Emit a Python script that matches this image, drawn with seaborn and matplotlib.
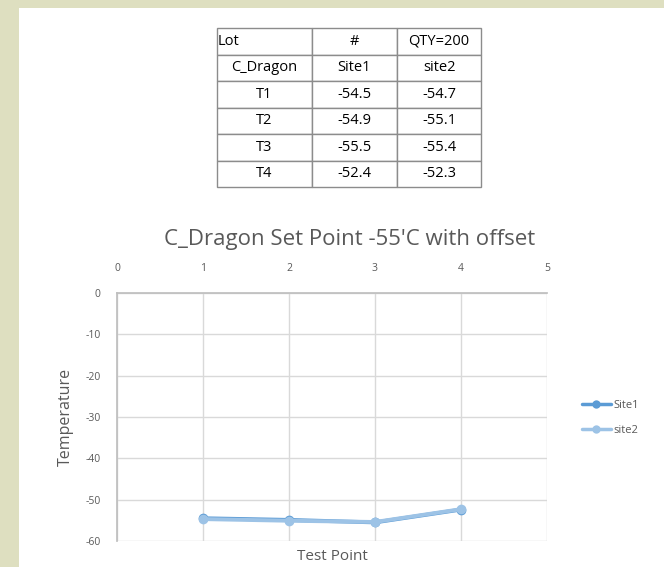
import matplotlib
matplotlib.use("Agg")
import matplotlib.pyplot as plt
import seaborn as sns
import pandas as pd
from matplotlib.patches import Rectangle
from matplotlib.lines import Line2D

# ---- data ----
test_points = [1, 2, 3, 4]
point_labels = ["T1", "T2", "T3", "T4"]
site1 = [-54.5, -54.9, -55.5, -52.4]
site2 = [-54.7, -55.1, -55.4, -52.3]
series_names = ["Site1", "site2"]
x_ticks = [0, 1, 2, 3, 4, 5]
y_ticks = [0, -10, -20, -30, -40, -50, -60]

sns.set_theme(style="white")
plt.rcParams['font.family'] = ['Open Sans', 'DejaVu Sans']
plt.rcParams['axes.unicode_minus'] = False

W, H = 664, 567
fig = plt.figure(figsize=(W / 100, H / 100), dpi=100)
fig.patch.set_facecolor("#dedfc0")
# white panel
fig.add_artist(Rectangle((19 / W, 0), 1 - 19 / W, 1 - 8 / H, transform=fig.transFigure,
                         facecolor="white", edgecolor="none", zorder=0))

# ---- table ----
tx0, tx1, ty0, ty1 = 217, 481, 28, 187
tax = fig.add_axes([tx0 / W, 1 - ty1 / H, (tx1 - tx0) / W, (ty1 - ty0) / H])
tax.axis("off")
cells = [["Lot", "#", "QTY=200"], ["C_Dragon", series_names[0], series_names[1]]]
for lbl, a, b in zip(point_labels, site1, site2):
    cells.append([lbl, f"{a}", f"{b}"])
col_w = [95, 85, 84]
tot = sum(col_w)
tbl = tax.table(cellText=cells, colWidths=[c / tot for c in col_w], bbox=[0, 0, 1, 1],
                cellLoc="center")
tbl.auto_set_font_size(False)
for (r, c), cell in tbl.get_celld().items():
    cell.set_edgecolor("#8c8c8c")
    cell.set_linewidth(1.0)
    cell.get_text().set_fontsize(10.5)
    cell.get_text().set_color("black")
    if r == 0 and c == 0:
        cell.get_text().set_ha("left")
        cell.PAD = 0.01
        cell._loc = "left"

# ---- chart ----
px0, px1, py0, py1 = 117, 547, 293, 541
ax = fig.add_axes([px0 / W, 1 - py1 / H, (px1 - px0) / W, (py1 - py0) / H])
df = pd.DataFrame({
    "Test Point": test_points * 2,
    "Temperature": site1 + site2,
    "Series": [series_names[0]] * 4 + [series_names[1]] * 4,
})
palette = {series_names[0]: "#5b9bd5", series_names[1]: "#9dc3e6"}
sns.lineplot(data=df, x="Test Point", y="Temperature", hue="Series", palette=palette,
             marker="o", markersize=7, markeredgewidth=0, linewidth=2.8, ax=ax,
             legend=False)

ax.set_xlim(0, 5)
ax.set_ylim(-60, 0)
ax.set_xticks(x_ticks)
ax.set_yticks(y_ticks)
ax.xaxis.tick_top()
ax.tick_params(axis="both", length=0, labelsize=7.5, labelcolor="#595959")
ax.tick_params(axis="x", pad=14)
ax.tick_params(axis="y", pad=12)
ax.grid(True, color="#d9d9d9", linewidth=1)
ax.set_axisbelow(True)
for s in ["right", "bottom"]:
    ax.spines[s].set_visible(False)
ax.spines["left"].set_color("#bfbfbf")
ax.spines["top"].set_color("#bfbfbf")
ax.set_xlabel("")
ax.set_ylabel("")

fig.text(332 / W, 1 - 556 / H, "Test Point", ha="center", va="center", fontsize=11, color="#595959")
fig.text(66 / W, 1 - 417 / H, "Temperature", ha="center", va="center", rotation=90,
         fontsize=11.5, color="#595959")
fig.text(350 / W, 1 - 240 / H, "C_Dragon Set Point -55'C with offset", ha="center", va="center",
         fontsize=16, color="#595959")

# legend
handles = [Line2D([], [], color=palette[n], marker="o", markersize=6, markeredgewidth=0, linewidth=2.5)
           for n in series_names]
leg = fig.legend(handles, series_names, loc="center left", bbox_to_anchor=(572 / W, 1 - 418 / H),
                 frameon=False, fontsize=8, labelcolor="#595959", handlelength=2.6,
                 handletextpad=0.2, labelspacing=1.3)

fig.savefig("out.png", dpi=100, facecolor=fig.get_facecolor())
